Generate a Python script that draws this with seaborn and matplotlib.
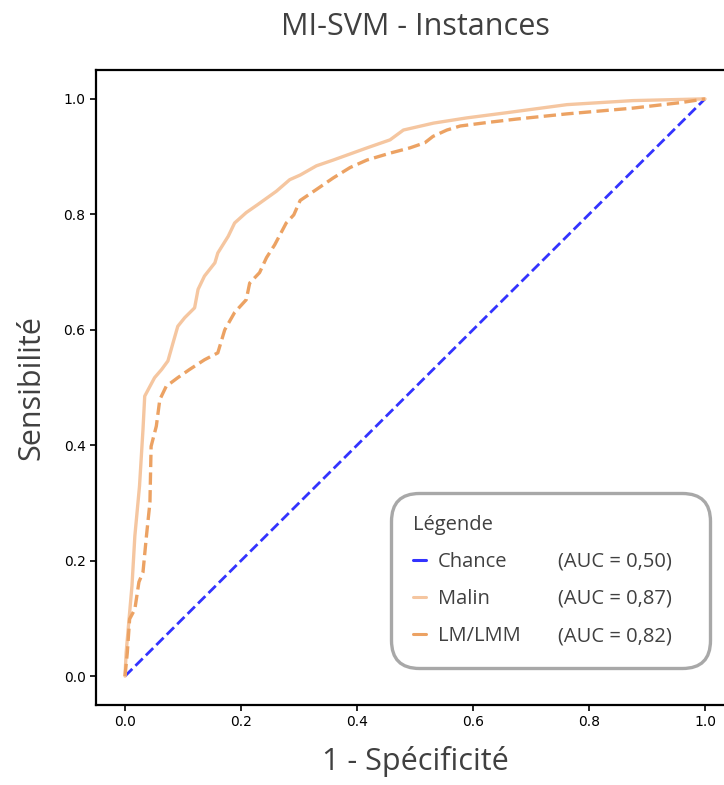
import numpy as np
import pandas as pd
import matplotlib
matplotlib.use("Agg")
import matplotlib.pyplot as plt
from matplotlib.lines import Line2D
import seaborn as sns

# ================================
# DATA
# ================================
chance_fpr = [0.0, 1.0]
chance_tpr = [0.0, 1.0]

malin_fpr = [0.0, 0.002, 0.007, 0.012, 0.017, 0.025, 0.031, 0.034, 0.043, 0.051,
             0.063, 0.074, 0.083, 0.091, 0.103, 0.120, 0.126, 0.137, 0.155, 0.160,
             0.178, 0.189, 0.209, 0.229, 0.261, 0.284, 0.302, 0.330, 0.359, 0.417,
             0.457, 0.480, 0.532, 0.589, 0.658, 0.762, 0.876, 1.0]
malin_tpr = [0.0, 0.041, 0.099, 0.156, 0.243, 0.329, 0.427, 0.485, 0.502, 0.517,
             0.531, 0.546, 0.578, 0.606, 0.621, 0.638, 0.670, 0.693, 0.716, 0.733,
             0.762, 0.785, 0.803, 0.817, 0.840, 0.860, 0.868, 0.884, 0.894, 0.915,
             0.929, 0.946, 0.958, 0.967, 0.976, 0.990, 0.997, 1.0]

lm_fpr = [0.0, 0.004, 0.008, 0.017, 0.024, 0.031, 0.037, 0.043, 0.045, 0.054,
          0.060, 0.071, 0.091, 0.111, 0.137, 0.160, 0.172, 0.189, 0.209, 0.215,
          0.232, 0.244, 0.258, 0.278, 0.291, 0.302, 0.330, 0.359, 0.388, 0.417,
          0.457, 0.491, 0.517, 0.531, 0.555, 0.578, 0.624, 0.675, 0.762, 0.876,
          0.962, 1.0]
lm_tpr = [0.0, 0.041, 0.099, 0.116, 0.163, 0.180, 0.243, 0.301, 0.398, 0.433,
          0.479, 0.502, 0.517, 0.531, 0.548, 0.560, 0.600, 0.630, 0.652, 0.681,
          0.699, 0.725, 0.747, 0.785, 0.799, 0.824, 0.843, 0.863, 0.881, 0.894,
          0.906, 0.915, 0.924, 0.935, 0.946, 0.953, 0.959, 0.965, 0.974, 0.984,
          0.994, 1.0]

series_names = ["Chance", "Malin", "LM/LMM"]
auc_labels = ["(AUC = 0,50)", "(AUC = 0,87)", "(AUC = 0,82)"]
x_ticks = [0.0, 0.2, 0.4, 0.6, 0.8, 1.0]
y_ticks = [0.0, 0.2, 0.4, 0.6, 0.8, 1.0]

# ================================
# STYLE
# ================================
sns.set_style("ticks")
plt.rcParams["font.family"] = ["DejaVu Sans"]
text_color = "#404040"
colors = {"Chance": "#3333ff", "Malin": "#f5c6a0", "LM/LMM": "#eca263"}
styles = {"Chance": "--", "Malin": "-", "LM/LMM": "--"}
widths = {"Chance": 2.0, "Malin": 2.4, "LM/LMM": 2.4}

df = pd.concat([
    pd.DataFrame({"fpr": chance_fpr, "tpr": chance_tpr, "serie": "Chance"}),
    pd.DataFrame({"fpr": malin_fpr, "tpr": malin_tpr, "serie": "Malin"}),
    pd.DataFrame({"fpr": lm_fpr, "tpr": lm_tpr, "serie": "LM/LMM"}),
])

fig = plt.figure(figsize=(7.24, 7.85), dpi=100)
ax = fig.add_axes([96 / 724, 80 / 785, 638 / 724, 635 / 785])

for name in ["Chance", "Malin", "LM/LMM"]:
    sub = df[df["serie"] == name]
    sns.lineplot(data=sub, x="fpr", y="tpr", ax=ax, estimator=None, sort=False,
                 color=colors[name], linestyle=styles[name], linewidth=widths[name],
                 legend=False)

ax.set_xlim(-0.05, 1.05)
ax.set_ylim(-0.05, 1.05)
ax.set_xticks(x_ticks)
ax.set_yticks(y_ticks)
ax.tick_params(labelsize=10, length=4, width=1.2, colors="black")
for sp in ax.spines.values():
    sp.set_linewidth(1.6)
    sp.set_color("black")

ax.set_title("MI-SVM - Instances", fontsize=22, color=text_color,
             family="Open Sans", pad=25)
ax.set_xlabel("1 - Spécificité", fontsize=22, color=text_color,
              family="Open Sans", labelpad=12)
ax.set_ylabel("Sensibilité", fontsize=22, color=text_color,
              family="Open Sans", labelpad=12)

# legend: names in column 1, AUC values in column 2
handles = [Line2D([], [], color=colors[n], linestyle="-", linewidth=2.2) for n in series_names]
blanks = [Line2D([], [], alpha=0) for _ in series_names]
leg = ax.legend(handles + blanks, series_names + [a + "   " for a in auc_labels], ncol=2,
                title="Légende", alignment="left",
                loc="lower right", bbox_to_anchor=(0.962, 0.058),
                prop={"family": "Open Sans", "size": 14.5},
                title_fontproperties={"family": "Open Sans", "size": 14.5},
                handlelength=0.65, handletextpad=0.6, columnspacing=0.6,
                labelspacing=0.85, borderpad=1.1, frameon=True, fancybox=True,
                borderaxespad=0)
for t in leg.get_texts():
    t.set_color(text_color)
leg.get_title().set_color(text_color)
frame = leg.get_frame()
frame.set_boxstyle("round,pad=0,rounding_size=1.4")
frame.set_edgecolor("#a8a8a8")
frame.set_linewidth(2.4)
frame.set_facecolor("white")
frame.set_alpha(1)

fig.savefig("out.png", dpi=100)
